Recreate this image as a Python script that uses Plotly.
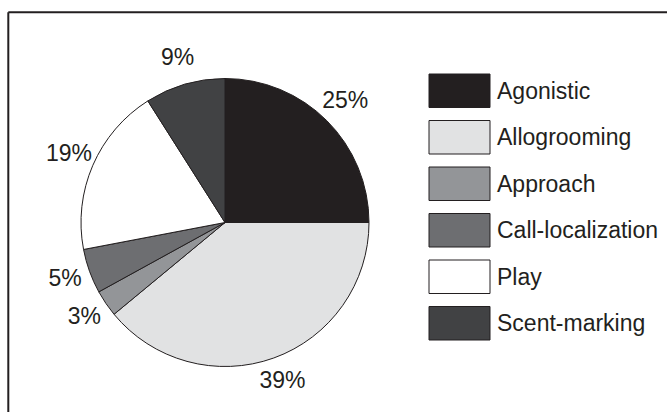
import plotly.graph_objects as go

categories = ["Agonistic", "Allogrooming", "Approach", "Call-localization", "Play", "Scent-marking"]
values = [25, 39, 3, 5, 19, 9]
colors = ["#231f20", "#e1e2e3", "#939598", "#6d6e71", "#ffffff", "#414244"]

W, H = 667, 412
FONT = "Liberation Sans, Arial, sans-serif"
TXT = "#231f20"

# pie placement (pixels inside the figure)
cx, cy, r = 225, 222.5, 144
dom_x = [(cx - r) / W, (cx + r) / W]
dom_y = [(H - cy - r) / H, (H - cy + r) / H]

# polar overlay for the outside labels: radial range [0, RMAX] with r=1 on the pie edge
RMAX = 1.25
pr = r * RMAX
pdom_x = [(cx - pr) / W, (cx + pr) / W]
pdom_y = [(H - cy - pr) / H, (H - cy + pr) / H]

total = sum(values)
mid_theta = []
acc = 0
for v in values:
    mid_theta.append((acc + v / 2) / total * 360)
    acc += v

fig = go.Figure()
fig.add_trace(go.Pie(
    labels=categories,
    values=values,
    sort=False,
    direction="clockwise",
    rotation=0,
    marker=dict(colors=colors, line=dict(color="#231f20", width=1)),
    textinfo="none",
    showlegend=False,
    hoverinfo="label+percent",
    domain=dict(x=dom_x, y=dom_y),
))

fig.add_trace(go.Scatterpolar(
    r=[1.18] * len(values),
    theta=mid_theta,
    mode="text",
    text=[f"{v}%" for v in values],
    textposition="middle center",
    textfont=dict(family=FONT, size=23, color=TXT),
    cliponaxis=False,
    showlegend=False,
    hoverinfo="skip",
))

shapes = []
annotations = []

# frame (top and left edges visible, continues past the picture)
fy = 1 - 12.3 / H
fx = 8.3 / W
shapes.append(dict(type="line", xref="paper", yref="paper",
                   x0=fx, x1=1.05, y0=fy, y1=fy,
                   line=dict(color="#231f20", width=2)))
shapes.append(dict(type="line", xref="paper", yref="paper",
                   x0=fx, x1=fx, y0=-0.05, y1=fy,
                   line=dict(color="#231f20", width=2)))

# custom legend with large swatches
lx0, lx1 = 429, 490
ly0, lstep, lh = 74, 46.5, 33.5
for i, (name, col) in enumerate(zip(categories, colors)):
    top = ly0 + i * lstep
    shapes.append(dict(type="rect", xref="paper", yref="paper",
                       x0=lx0 / W, x1=lx1 / W,
                       y0=1 - (top + lh) / H, y1=1 - top / H,
                       fillcolor=col, line=dict(color="#231f20", width=1)))
    annotations.append(dict(xref="paper", yref="paper",
                            x=495 / W, y=1 - (top + lh / 2) / H,
                            xanchor="left", yanchor="middle",
                            text=name, showarrow=False,
                            font=dict(family=FONT, size=23, color=TXT)))

fig.update_layout(
    width=W, height=H,
    margin=dict(l=0, r=0, t=0, b=0),
    paper_bgcolor="white",
    plot_bgcolor="white",
    polar=dict(
        domain=dict(x=pdom_x, y=pdom_y),
        bgcolor="rgba(0,0,0,0)",
        radialaxis=dict(visible=False, range=[0, RMAX]),
        angularaxis=dict(visible=False, direction="clockwise", rotation=90),
    ),
    shapes=shapes,
    annotations=annotations,
    font=dict(family=FONT, color=TXT),
)

# remove the default page margin so the figure fills the window exactly
fig.write_html("out.html",
               config={"displayModeBar": False},
               post_script="document.body.style.margin='0';document.body.style.overflow='hidden';")
